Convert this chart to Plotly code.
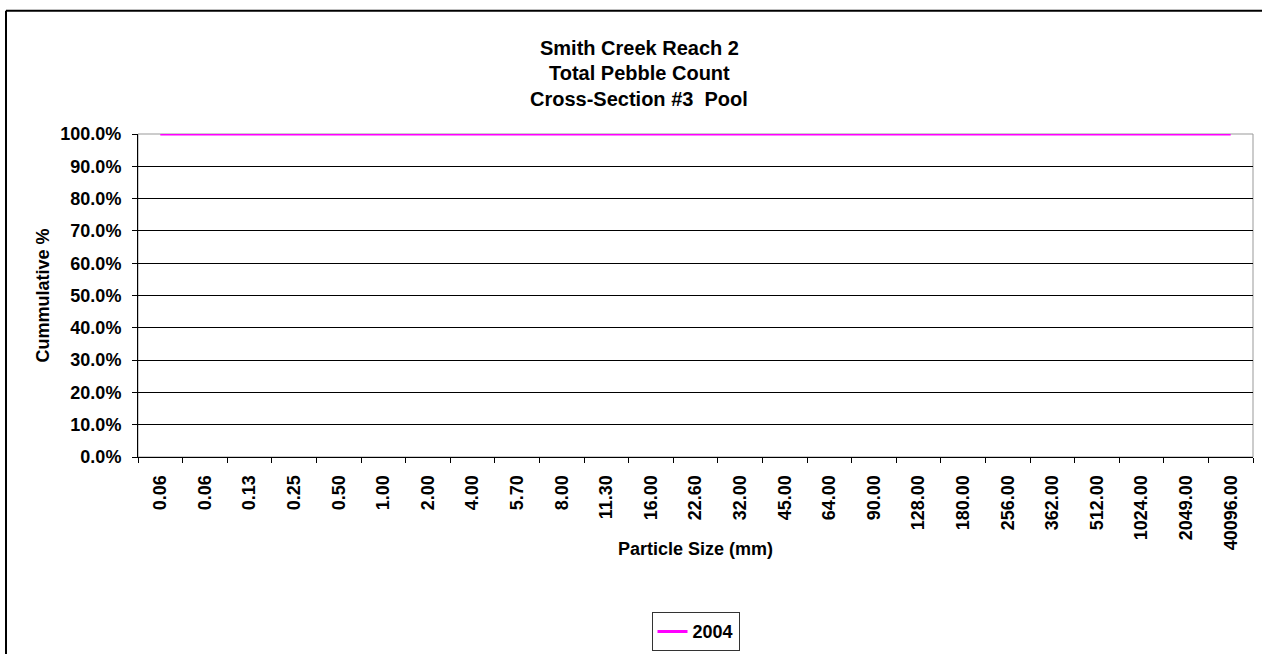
import plotly.graph_objects as go

# ---- data ----
particle_sizes = ["0.06", "0.06", "0.13", "0.25", "0.50", "1.00", "2.00", "4.00", "5.70",
                  "8.00", "11.30", "16.00", "22.60", "32.00", "45.00", "64.00", "90.00",
                  "128.00", "180.00", "256.00", "362.00", "512.00", "1024.00", "2049.00",
                  "40096.00"]
cumulative_2004 = [1.0] * len(particle_sizes)
series_name = "2004"
title_lines = ["Smith Creek Reach 2", "Total Pebble Count", "Cross-Section #3  Pool"]

positions = list(range(len(particle_sizes)))
FONT = "Liberation Sans, Arial, sans-serif"

# pixel geometry helpers
L, R, T, B = 138, 9, 134, 193
W, H = 1262, 660
PW, PH = W - L - R, H - T - B


def px_x(x):
    return (x - L) / PW


def px_y(y):
    return (H - B - y) / PH


fig = go.Figure()
fig.add_trace(go.Scatter(
    x=positions, y=cumulative_2004, mode="lines", name=series_name,
    line=dict(color="#FF00FF", width=3), cliponaxis=False,
))

title_annotations = [
    dict(text=t, xref="paper", yref="paper", x=px_x(639), y=px_y(45 + 26.5 * i),
         xanchor="center", yanchor="middle", showarrow=False,
         font=dict(family=FONT, size=20, color="black", weight="bold"))
    for i, t in enumerate(title_lines)
]

fig.update_layout(
    width=W, height=H,
    margin=dict(l=L, r=R, t=T, b=B),
    paper_bgcolor="white", plot_bgcolor="white",
    font=dict(family=FONT, size=18, color="black"),
    showlegend=True,
    legend=dict(
        x=0.5, xanchor="center", y=px_y(627), yanchor="top",
        bordercolor="#333333", borderwidth=1,
        font=dict(family=FONT, size=18, color="black", weight="bold"),
        itemwidth=30, tracegroupgap=0,
    ),
    xaxis=dict(
        range=[-0.5, len(particle_sizes) - 0.5],
        tickmode="array", tickvals=positions, ticktext=particle_sizes,
        tickangle=-90, ticks="", ticklabelstandoff=10,
        tickfont=dict(family=FONT, size=18, color="black", weight="bold"),
        showgrid=False, zeroline=False,
        showline=True, linecolor="black", linewidth=1,
        minor=dict(tickmode="array",
                   tickvals=[p - 0.5 for p in positions] + [len(particle_sizes) - 0.5],
                   ticks="outside", ticklen=5, tickcolor="black", showgrid=False),
        fixedrange=True,
    ),
    yaxis=dict(
        range=[0, 1], tickmode="linear", tick0=0, dtick=0.1, tickformat=".1%",
        ticks="outside", ticklen=5, tickcolor="black", ticklabelstandoff=7,
        tickfont=dict(family=FONT, size=18, color="black", weight="bold"),
        showgrid=True, gridcolor="black", gridwidth=1,
        zeroline=False, showline=True, linecolor="black", linewidth=1,
        fixedrange=True,
    ),
    shapes=[
        # plot area border (gray) on top/right
        dict(type="rect", xref="paper", yref="paper", x0=0, x1=1, y0=0, y1=1,
             line=dict(color="#999999", width=1), layer="between"),
        # chart outer border
        dict(type="line", xref="paper", yref="paper", x0=px_x(6), x1=px_x(1270),
             y0=px_y(7), y1=px_y(7), line=dict(color="black", width=2)),
        dict(type="line", xref="paper", yref="paper", x0=px_x(6), x1=px_x(6),
             y0=px_y(7), y1=px_y(670), line=dict(color="black", width=2)),
    ],
    annotations=title_annotations + [
        dict(text="Cummulative %", xref="paper", yref="paper", x=px_x(42), y=0.5,
             textangle=-90, showarrow=False, xanchor="center", yanchor="middle",
             font=dict(family=FONT, size=18, color="black", weight="bold")),
        dict(text="Particle Size (mm)", xref="paper", yref="paper", x=0.5, y=px_y(562),
             showarrow=False, xanchor="center", yanchor="middle",
             font=dict(family=FONT, size=18, color="black", weight="bold")),
    ],
)

fig.write_html(
    "out.html",
    config={"displayModeBar": False},
    post_script="document.body.style.margin='0';document.body.style.overflow='hidden';",
)
